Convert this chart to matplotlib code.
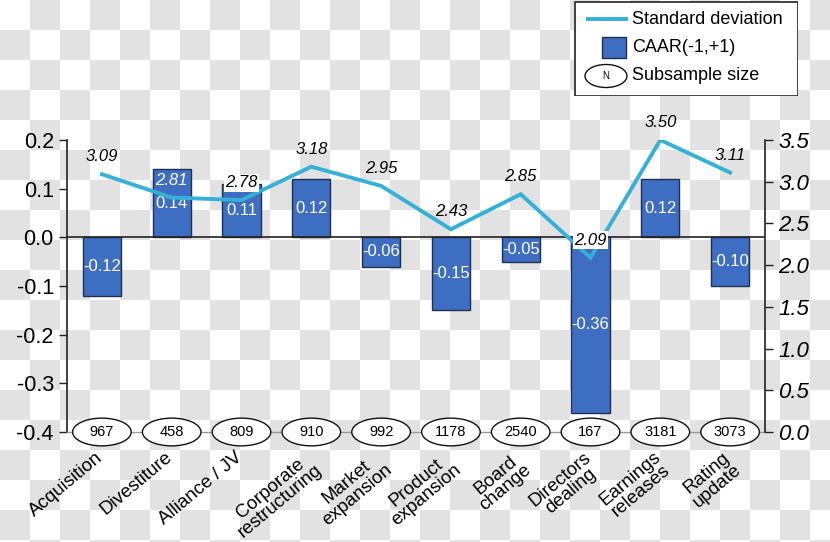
import numpy as np
import matplotlib
matplotlib.use('Agg')
import matplotlib.pyplot as plt
import matplotlib.transforms as mtransforms
from matplotlib.patches import Ellipse, Rectangle
from matplotlib.lines import Line2D

plt.rcParams['font.family'] = ['Liberation Sans', 'DejaVu Sans']

categories = ['Acquisition', 'Divestiture', 'Alliance / JV', 'Corporate\nrestructuring',
              'Market\nexpansion', 'Product\nexpansion', 'Board\nchange',
              'Directors\ndealing', 'Earnings\nreleases', 'Rating\nupdate']
caar = [-0.12, 0.14, 0.11, 0.12, -0.06, -0.15, -0.05, -0.36, 0.12, -0.10]
std_dev = [3.09, 2.81, 2.78, 3.18, 2.95, 2.43, 2.85, 2.09, 3.50, 3.11]
sample_size = [967, 458, 809, 910, 992, 1178, 2540, 167, 3181, 3073]
left_ticks = [-0.4, -0.3, -0.2, -0.1, 0.0, 0.1, 0.2]
right_ticks = [0.0, 0.5, 1.0, 1.5, 2.0, 2.5, 3.0, 3.5]

BAR_COLOR = '#3d6ec2'
LINE_COLOR = '#35b0d6'

W, H = 830, 542
fig = plt.figure(figsize=(W / 100, H / 100), dpi=100)

# transparent-look checkerboard backdrop
yy, xx = np.mgrid[0:H, 0:W]
checker = ((xx // 30 + yy // 30) % 2).astype(float)
bg = np.where(checker[..., None] > 0, 0.89, 1.0) * np.ones((H, W, 3))
fig.figimage(bg, xo=0, yo=0, origin='upper', zorder=-10)

ax = fig.add_axes([67 / W, 110 / H, 698 / W, 292 / H])
ax.patch.set_visible(False)
x = np.arange(len(categories))

ax.bar(x, caar, width=0.55, color=BAR_COLOR, edgecolor='#1f2f4f', linewidth=1, zorder=2)
ax.axhline(0, color='#222222', lw=1.2, zorder=3)
for xi, v in zip(x, caar):
    ax.text(xi, v / 2, '%.2f' % v, color='white', ha='center', va='center',
            fontsize=12, zorder=4)

ax.set_xlim(-0.5, len(categories) - 0.5)
ax.set_ylim(-0.4, 0.2)
ax.set_yticks(left_ticks)
ax.set_yticklabels(['%.1f' % t for t in left_ticks], fontsize=15.5)
ax.tick_params(axis='y', direction='out', length=6, width=1, colors='#222222', labelcolor='black')
ax.set_xticks(x)
ax.set_xticklabels(categories, fontsize=13.5, rotation=40, ha='right',
                   rotation_mode='anchor', multialignment='center', linespacing=0.92)
ax.tick_params(axis='x', length=0, pad=12)
shift = mtransforms.ScaledTranslation(-5 / 72, 0, fig.dpi_scale_trans)
for lbl in ax.get_xticklabels():
    lbl.set_va('top')
    lbl.set_transform(lbl.get_transform() + shift)

ax.spines['top'].set_visible(False)
ax.spines['right'].set_visible(False)
ax.spines['left'].set_color('#222222')
ax.spines['left'].set_linewidth(1.2)
ax.spines['bottom'].set_color('#999999')
ax.spines['bottom'].set_linewidth(1)

# subsample size ellipses along the bottom axis
for xi, n in zip(x, sample_size):
    e = Ellipse((xi, -0.4), width=0.84, height=0.057, facecolor='white',
                edgecolor='#111111', lw=1, clip_on=False, zorder=5)
    ax.add_patch(e)
    ax.text(xi, -0.4, str(n), ha='center', va='center', fontsize=10.5, zorder=6, clip_on=False)

ax2 = ax.twinx()
ax2.plot(x, std_dev, color=LINE_COLOR, lw=2.8, zorder=5, solid_joinstyle='miter')
ax2.set_ylim(0, 3.5)
ax2.set_yticks(right_ticks)
ax2.set_yticklabels(['%.1f' % t for t in right_ticks], fontsize=16, style='italic')
ax2.tick_params(axis='y', direction='out', length=6, width=1, colors='#222222', labelcolor='black')
for s in ['top', 'left', 'bottom']:
    ax2.spines[s].set_visible(False)
ax2.spines['right'].set_color('#222222')
ax2.spines['right'].set_linewidth(1.2)

white_text = {1}
boxed = {2, 7}
for i, (xi, v) in enumerate(zip(x, std_dev)):
    kw = dict(ha='center', va='center', fontsize=12, style='italic', zorder=7,
              textcoords='offset points', xytext=(0, 12.5))
    kw['color'] = 'white' if i in white_text else 'black'
    if i in boxed:
        kw['bbox'] = dict(boxstyle='square,pad=0.1', facecolor='white', edgecolor='none')
    ax2.annotate('%.2f' % v, (xi, v), **kw)

# legend box
lg = fig.add_axes([574 / W, (H - 96) / H, 224 / W, 95 / H])
lg.set_xlim(0, 224)
lg.set_ylim(95, 0)
lg.axis('off')
lg.add_patch(Rectangle((0.5, 0.5), 223, 94, facecolor='white', edgecolor='#222222', lw=1.2))
lg.add_line(Line2D([14, 52], [18, 18], color=LINE_COLOR, lw=2.8))
lg.add_patch(Rectangle((28, 36), 24, 21, facecolor=BAR_COLOR, edgecolor='#1f2f4f', lw=1))
lg.add_patch(Ellipse((32, 75), 42, 23, facecolor='white', edgecolor='#111111', lw=1))
lg.text(32, 75, 'N', ha='center', va='center', fontsize=7)
for yv, t in zip([18, 46, 75], ['Standard deviation', 'CAAR(-1,+1)', 'Subsample size']):
    lg.text(58, yv, t, ha='left', va='center', fontsize=13)

fig.savefig('out.png', dpi=100)
